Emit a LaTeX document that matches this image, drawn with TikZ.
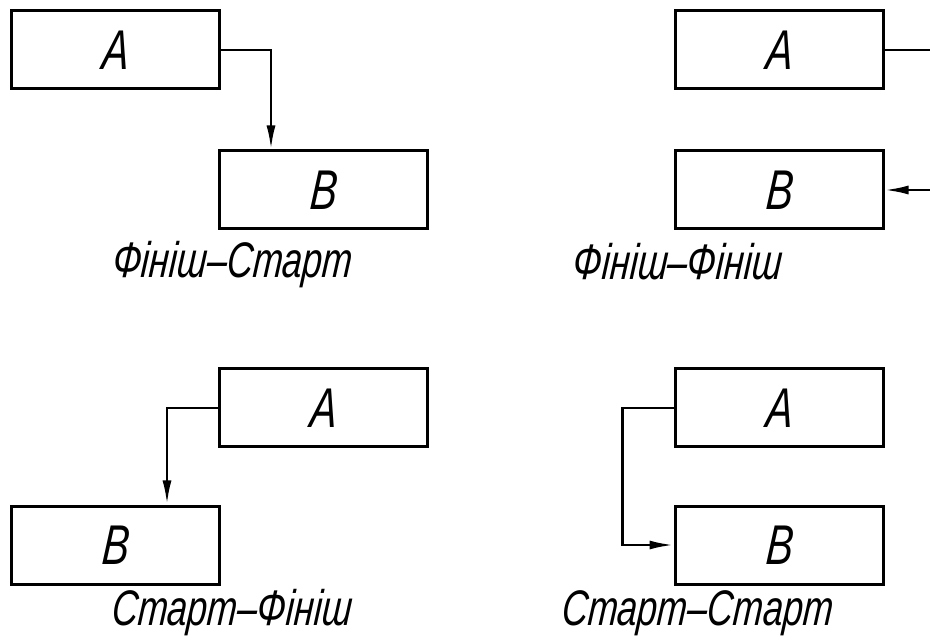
\documentclass[tikz,border=0pt]{standalone}
\usepackage{fontspec}
\setmainfont{Liberation Sans}[FakeStretch=0.72, FakeSlant=0.08]
\usetikzlibrary{arrows.meta, positioning}

\begin{document}
\begin{tikzpicture}[x=1pt, y=-1pt,
    task/.style={draw, line width=3pt, minimum width=208pt, minimum height=78pt, inner sep=0pt, font=\fontsize{56}{56}\selectfont\itshape},
    link/.style={line width=2.6pt, -{Latex[length=24pt, width=9pt]}},
    caption/.style={font=\fontsize{50}{50}\selectfont\itshape, inner sep=0pt}]
    \useasboundingbox (0,0) rectangle (930,644);
    \clip (0,0) rectangle (930,644);

    % Finish-Start
    \node[task] (fsA) at (115,50) {A};
    \node[task] (fsB) at (323,190) {B};
    \draw[link] (fsA.east) -| ([xshift=-52pt]fsB.north);
    \node[caption] (fsT) at (232,265) {Фініш--Старт};

    % Finish-Finish
    \node[task] (ffA) at (779,50) {A};
    \node[task] (ffB) at (779,190) {B};
    \draw[link] (ffA.east) -- ++(62,0) |- (ffB.east);
    \node[caption] (ffT) at (677,262) {Фініш--Фініш};

    % Start-Finish
    \node[task] (sfA) at (323,408) {A};
    \node[task] (sfB) at (115,545) {B};
    \draw[link] (sfA.west) -| ([xshift=52pt]sfB.north);
    \node[caption] (sfT) at (231,613) {Старт--Фініш};

    % Start-Start
    \node[task] (ssA) at (779,408) {A};
    \node[task] (ssB) at (779,545) {B};
    \draw[link] (ssA.west) -- ++(-51,0) |- (ssB.west);
    \node[caption] (ssT) at (697,613) {Старт--Старт};
\end{tikzpicture}
\end{document}
